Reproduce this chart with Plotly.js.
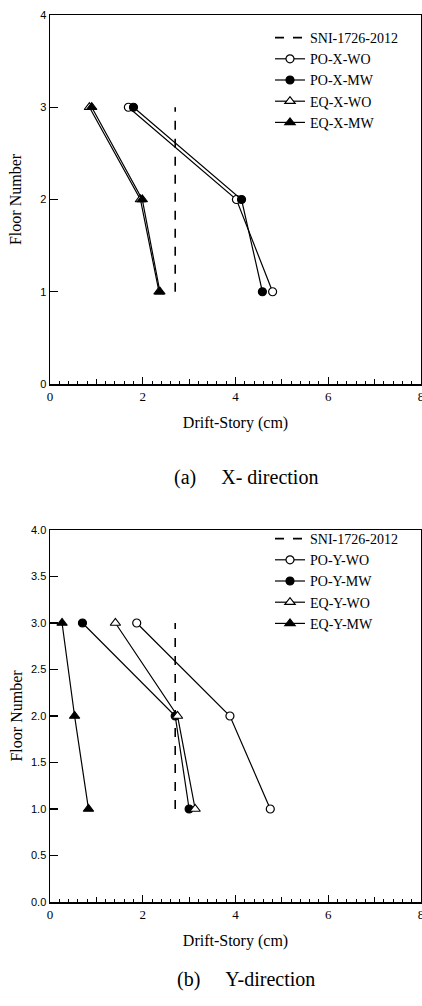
<!DOCTYPE html>
<html>
<head>
<meta charset="utf-8">
<script src="https://cdn.plot.ly/plotly-3.0.1.min.js"></script>
<style>html,body{margin:0;padding:0;background:#fff;}#chart{width:422px;height:1006px;}</style>
</head>
<body>
<div id="chart"></div>
<script>
// Floors
const floors = [3, 2, 1];
// SNI-1726-2012 limit line (drift, floor)
const sniX = [2.7, 2.7];
const sniY = [1, 3];
// (a) X-direction drift-story (cm), floors 3,2,1
const poXWO = [1.69, 4.02, 4.80];
const poXMW = [1.80, 4.13, 4.58];
const eqXWO = [0.85, 1.95, 2.35];
const eqXMW = [0.90, 1.99, 2.37];
// (b) Y-direction drift-story (cm), floors 3,2,1
const poYWO = [1.87, 3.88, 4.75];
const poYMW = [0.70, 2.70, 3.00];
const eqYWO = [1.41, 2.75, 3.13];
const eqYMW = [0.26, 0.53, 0.83];

const topNames = ['SNI-1726-2012', 'PO-X-WO', 'PO-X-MW', 'EQ-X-WO', 'EQ-X-MW'];
const botNames = ['SNI-1726-2012', 'PO-Y-WO', 'PO-Y-MW', 'EQ-Y-WO', 'EQ-Y-MW'];
const captions = ['(a)&nbsp;&nbsp;&nbsp;&nbsp;&nbsp;X- direction', '(b)&nbsp;&nbsp;&nbsp;&nbsp;&nbsp;Y-direction'];

const serif = '"Liberation Serif", "Times New Roman", serif';
const sans = '"Liberation Sans", Arial, sans-serif';

function mk(symbol, filled) {
  return {symbol: symbol, size: symbol.indexOf('triangle') === 0 ? 9 : 8,
    color: filled ? 'black' : 'white', line: {color: 'black', width: 1.2}};
}
function series(x, name, symbol, filled, xa, ya, lg) {
  return {x: x, y: floors, name: name, type: 'scatter', mode: 'lines+markers',
    xaxis: xa, yaxis: ya, legend: lg, line: {color: 'black', width: 1.2},
    marker: mk(symbol, filled)};
}
function sni(name, xa, ya, lg) {
  return {x: sniX, y: sniY, name: name, type: 'scatter', mode: 'lines',
    xaxis: xa, yaxis: ya, legend: lg, line: {color: 'black', width: 1.6, dash: 'dash'}};
}

const data = [
  sni(topNames[0], 'x', 'y', 'legend'),
  series(poXWO, topNames[1], 'circle', false, 'x', 'y', 'legend'),
  series(poXMW, topNames[2], 'circle', true, 'x', 'y', 'legend'),
  series(eqXWO, topNames[3], 'triangle-up', false, 'x', 'y', 'legend'),
  series(eqXMW, topNames[4], 'triangle-up', true, 'x', 'y', 'legend'),
  sni(botNames[0], 'x2', 'y2', 'legend2'),
  series(poYWO, botNames[1], 'circle', false, 'x2', 'y2', 'legend2'),
  series(poYMW, botNames[2], 'circle', true, 'x2', 'y2', 'legend2'),
  series(eqYWO, botNames[3], 'triangle-up', false, 'x2', 'y2', 'legend2'),
  series(eqYMW, botNames[4], 'triangle-up', true, 'x2', 'y2', 'legend2'),
  {x: [], y: [], xaxis: 'x3', yaxis: 'y', showlegend: false, type: 'scatter'},
  {x: [], y: [], xaxis: 'x4', yaxis: 'y2', showlegend: false, type: 'scatter'}
];

const W = 422, H = 1006;
const xDom = [50 / W, 421 / W];
const yDomTop = [1 - 384 / H, 1 - 15 / H];
const yDomBot = [1 - 902 / H, 1 - 530 / H];

function xMain(anchor) {
  return {domain: xDom, range: [0, 8], anchor: anchor, dtick: 2, tick0: 0,
    ticks: 'inside', ticklen: 7, tickwidth: 1.2, tickcolor: 'black',
    minor: {dtick: 0.2, ticks: 'inside', ticklen: 3, tickwidth: 1, tickcolor: 'black', showgrid: false},
    showline: true, mirror: true, linewidth: 1.5, linecolor: 'black',
    showgrid: false, zeroline: false, fixedrange: true,
    ticklabeloverflow: 'allow',
    tickfont: {family: serif, size: 13, color: 'black'},
    title: {text: 'Drift-Story (cm)', font: {family: serif, size: 16, color: 'black'}, standoff: 13}};
}
function xOver(over, anchor) {
  return {domain: xDom, range: [0, 8], overlaying: over, anchor: anchor, dtick: 1, tick0: 0,
    ticks: 'inside', ticklen: 5, tickwidth: 1, tickcolor: 'black',
    showticklabels: false, showline: false, showgrid: false, zeroline: false};
}
function yMain(dom, anchor, dt, standoff) {
  return {domain: dom, range: [0, 4], anchor: anchor, dtick: dt, tick0: 0,
    ticks: 'inside', ticklen: 8, tickwidth: 1.2, tickcolor: 'black',
    showline: true, mirror: true, linewidth: 1.5, linecolor: 'black',
    showgrid: false, zeroline: false, fixedrange: true,
    tickformat: dt < 1 ? '.1f' : 'd',
    tickfont: {family: sans, size: 11, color: 'black'},
    title: {text: 'Floor Number', font: {family: serif, size: 16, color: 'black'}, standoff: standoff}};
}

const legBase = {xanchor: 'left', yanchor: 'top', bgcolor: 'rgba(0,0,0,0)',
  font: {family: serif, size: 14, color: 'black'}, tracegroupgap: 0, itemwidth: 30,
  itemclick: false, itemdoubleclick: false};

const layout = {
  width: W, height: H,
  margin: {l: 0, r: 0, t: 0, b: 0},
  paper_bgcolor: 'white', plot_bgcolor: 'white',
  showlegend: true,
  xaxis: xMain('y'),
  yaxis: yMain(yDomTop, 'x', 1, 14),
  xaxis2: xMain('y2'),
  yaxis2: yMain(yDomBot, 'x2', 0.5, 4),
  xaxis3: xOver('x', 'y'),
  xaxis4: xOver('x2', 'y2'),
  legend: Object.assign({}, legBase, {x: 270 / W, y: 1 - 22 / H}),
  legend2: Object.assign({}, legBase, {x: 270 / W, y: 1 - 523 / H}),
  annotations: [
    {text: captions[0], xref: 'paper', yref: 'paper', x: 246 / W, y: 1 - 478 / H,
      showarrow: false, font: {family: serif, size: 20, color: 'black'}},
    {text: captions[1], xref: 'paper', yref: 'paper', x: 246 / W, y: 1 - 993 / H,
      showarrow: false, font: {family: serif, size: 20, color: 'black'}}
  ]
};

Plotly.newPlot('chart', data, layout, {displayModeBar: false, staticPlot: true});
</script>
</body>
</html>
